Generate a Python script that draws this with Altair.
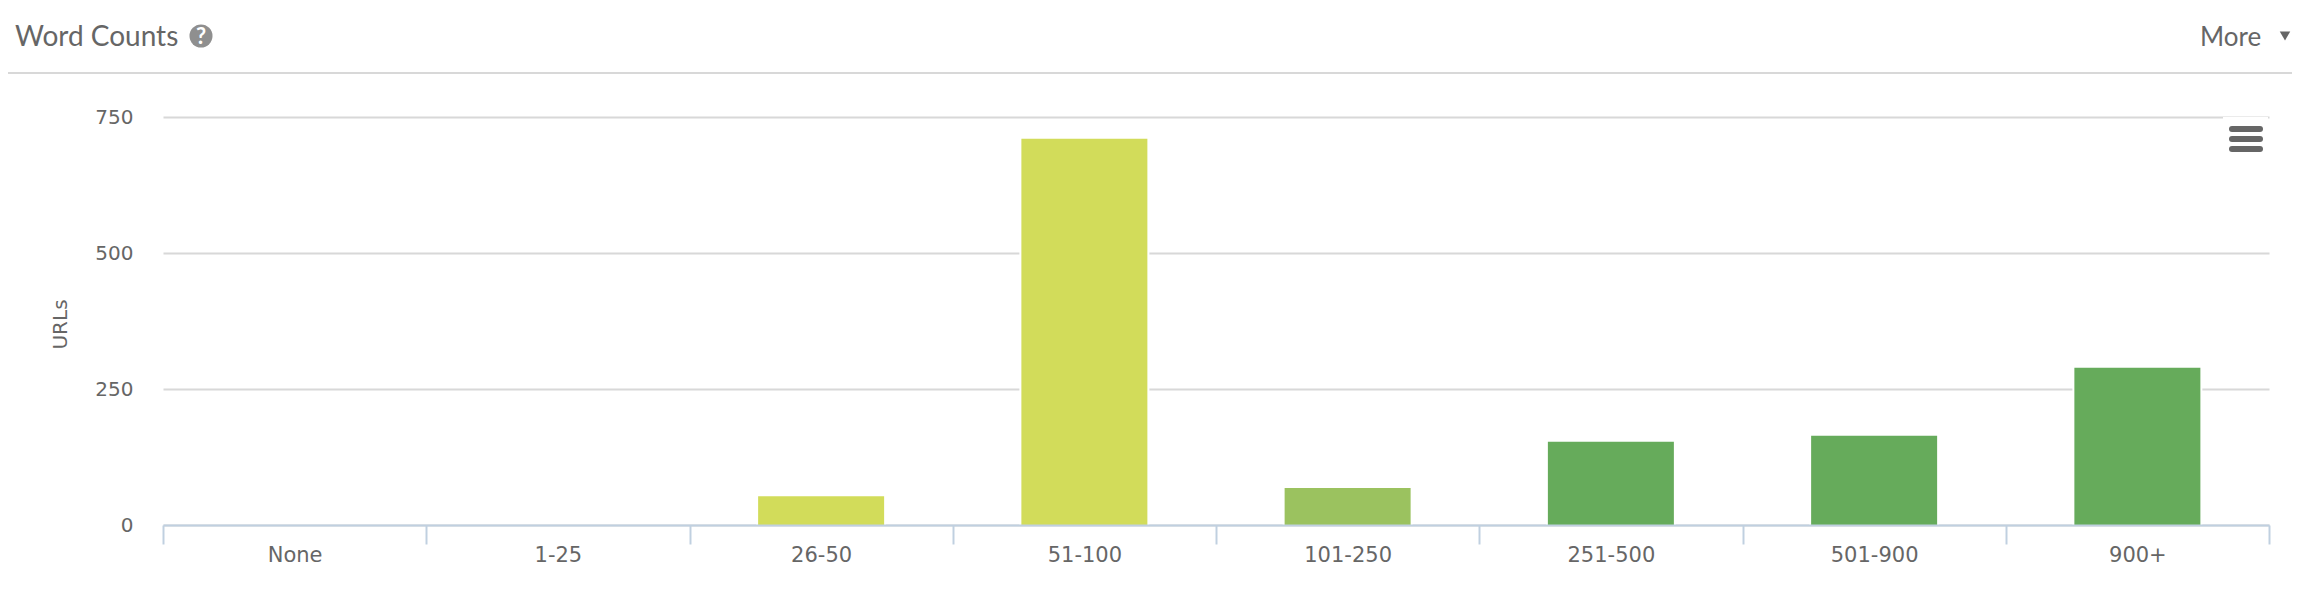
import altair as alt
import pandas as pd

categories = ["None", "1-25", "26-50", "51-100", "101-250", "251-500", "501-900", "900+"]
urls = [0, 0, 53, 710, 68, 153, 164, 289]
bar_colors = ["#d2dc5a", "#d2dc5a", "#d2dc5a", "#d2dc5a", "#9bc25f", "#66ab5b", "#66ab5b", "#66ab5b"]

TXT = "#666666"
LINE = "#d8d8d8"
AXIS = "#c0d0e0"
LEFT = 163
TOP = 117
W = 2106
H = 408
df = pd.DataFrame({"cat": categories, "urls": urls})


def px(v):
    return alt.value(v - LEFT)


def py(v):
    return alt.value(v - TOP)


x_enc = alt.X("cat:N", sort=categories, title=None,
              scale=alt.Scale(domain=categories, paddingInner=0, paddingOuter=0),
              axis=alt.Axis(tickBand="extent", tickSize=19, tickColor=AXIS, tickWidth=2,
                            domainColor=AXIS, domainWidth=2, labelAngle=0, labelPadding=11,
                            labelColor=TXT, labelFont="DejaVu Sans", labelFontSize=21,
                            labelBaseline="middle", grid=False, zindex=1))
y_enc = alt.Y("urls:Q", title="URLs",
              scale=alt.Scale(domain=[0, 750], nice=False),
              axis=alt.Axis(values=[0, 250, 500, 750], gridColor=LINE, gridWidth=2,
                            domain=False, ticks=False, labelPadding=30, labelColor=TXT,
                            labelFont="DejaVu Sans", labelFontSize=20,
                            titleColor=TXT, titleFont="DejaVu Sans", titleFontSize=20,
                            titleFontWeight="normal", titleX=-93, titleY=207))

halo = alt.Chart(df).mark_bar(size=130, color="white").encode(x=x_enc, y=y_enc)
bars = alt.Chart(df).mark_bar(size=126).encode(
    x=x_enc, y=y_enc,
    color=alt.Color("cat:N", scale=alt.Scale(domain=categories, range=bar_colors), legend=None),
)

one = pd.DataFrame({"a": [0]})


def rule(x1, x2, y, color, width, cap="butt"):
    return alt.Chart(one).mark_rule(color=color, strokeWidth=width, strokeCap=cap).encode(
        x=px(x1), x2=px(x2), y=py(y))


def text(s, x, y, size, color=TXT, align="left", font="Lato", weight="normal"):
    return alt.Chart(one).mark_text(text=s, align=align, baseline="middle", fontSize=size,
                                    font=font, color=color, fontWeight=weight).encode(
        x=px(x), y=py(y))


chrome = [
    rule(8, 2292, 73, LINE, 2),
    text("Word Counts", 15, 38, 28),
    alt.Chart(one).mark_point(shape="circle", filled=True, opacity=1, size=530, color="#8f8f8f").encode(
        x=px(201), y=py(36)),
    text("?", 201, 37, 22, color="white", align="center", font="Lato", weight="bold"),
    text("More", 2200, 38, 26),
    alt.Chart(one).mark_point(shape="triangle-down", filled=True, opacity=1, size=110, color=TXT).encode(
        x=px(2285), y=py(36)),
    rule(2223, 2268, 118, "white", 2),
    rule(2232, 2260, 129, TXT, 6, "round"),
    rule(2232, 2260, 139, TXT, 6, "round"),
    rule(2232, 2260, 149, TXT, 6, "round"),
]

chart = alt.layer(halo, bars, *chrome).resolve_scale(color="independent").properties(
    width=W, height=H,
    autosize=alt.AutoSizeParams(type="none"),
    padding={"left": LEFT - 8, "top": TOP - 8, "right": 2284 - (LEFT - 8) - W, "bottom": 60},
    background="white",
).configure_view(stroke=None)

chart.save("out.html", embed_options={"renderer": "svg", "actions": False})
